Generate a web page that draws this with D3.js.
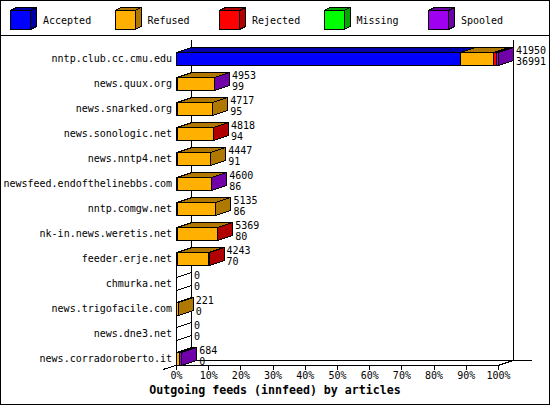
<!DOCTYPE html>
<html>
<head>
<meta charset="utf-8">
<script src="https://cdn.jsdelivr.net/npm/d3@7"></script>
<style>
  body { margin: 0; background: #fff; }
  svg text { font-family: "DejaVu Sans Mono", monospace; }
</style>
</head>
<body>
<svg width="550" height="405"></svg>
<script>
// feeds, top to bottom
var hosts = ["nntp.club.cc.cmu.edu", "news.quux.org", "news.snarked.org", "news.sonologic.net",
  "news.nntp4.net", "newsfeed.endofthelinebbs.com", "nntp.comgw.net", "nk-in.news.weretis.net",
  "feeder.erje.net", "chmurka.net", "news.trigofacile.com", "news.dne3.net", "news.corradoroberto.it"];

// article counts per feed
var offered  = [41950, 4953, 4717, 4818, 4447, 4600, 5135, 5369, 4243, 0, 221, 0, 684];
var accepted = [36991,   99,   95,   94,   91,   86,   86,   80,   70, 0,   0, 0,   0];
var refused  = [ 4280, 4800, 4622, 4680, 4356, 4480, 5049, 5250, 4135, 0, 221, 0, 380];
var rejected = [  450,    0,    0,   44,    0,    0,    0,   39,   38, 0,   0, 0,  60];
var missing  = [    0,    0,    0,    0,    0,    0,    0,    0,    0, 0,   0, 0,   0];
var spooled  = [  229,   54,    0,    0,    0,   34,    0,    0,    0, 0,   0, 0, 244];

var seriesNames = ["Accepted", "Refused", "Rejected", "Missing", "Spooled"];
var seriesData = [accepted, refused, rejected, missing, spooled];
var frontColors = ["#0000ff", "#ffb000", "#ff0000", "#00ff00", "#a000f0"];
var darkColors  = ["#0000a8", "#b07800", "#b00000", "#00a800", "#7000a8"];

var pctTicks = [0, 10, 20, 30, 40, 50, 60, 70, 80, 90, 100];

var svg = d3.select("svg");
svg.attr("shape-rendering", "crispEdges");

var dx = 15, dy = 5;          // 3d depth
var plotLeft = 176, plotRight = 498, plotTop = 52, plotBottom = 365;

var x = d3.scaleLinear().domain([0, d3.max(offered)]).range([plotLeft, plotRight]);
var xPct = d3.scaleLinear().domain([0, 100]).range([plotLeft, plotRight]);
var y = d3.scaleBand().domain(hosts).range([plotTop, plotBottom]).paddingInner(0.48).paddingOuter(0);

// frame
svg.append("rect").attr("x", 0.5).attr("y", 0.5).attr("width", 549).attr("height", 404)
  .attr("fill", "none").attr("stroke", "#000");
svg.append("line").attr("x1", 0).attr("x2", 550).attr("y1", 35.5).attr("y2", 35.5).attr("stroke", "#000");

// legend
var legX = d3.scaleBand().domain(seriesNames).range([10, 532.5]);
var leg = svg.selectAll("g.leg").data(seriesNames).enter().append("g")
  .attr("class", "leg")
  .attr("transform", function(d) { return "translate(" + legX(d) + ",10)"; });
leg.each(function(d, i) {
  var g = d3.select(this);
  g.append("polygon").attr("points", "0.5,0.5 6.5,-2.5 26.5,-2.5 20.5,0.5")
    .attr("fill", darkColors[i]).attr("stroke", "#000");
  g.append("polygon").attr("points", "20.5,0.5 26.5,-2.5 26.5,16.5 20.5,19.5")
    .attr("fill", darkColors[i]).attr("stroke", "#000");
  g.append("rect").attr("x", 0.5).attr("y", 0.5).attr("width", 20).attr("height", 19)
    .attr("fill", frontColors[i]).attr("stroke", "#000");
  g.append("text").attr("x", 33).attr("y", 14).attr("font-size", 10).text(d);
});

// back walls and floor
var walls = svg.append("g").attr("stroke", "#000");
walls.append("line").attr("x1", plotLeft + dx + 0.5).attr("x2", plotLeft + dx + 0.5)
  .attr("y1", 40).attr("y2", plotBottom - dy);
walls.append("line").attr("x1", plotRight + dx + 0.5).attr("x2", plotRight + dx + 0.5)
  .attr("y1", 40).attr("y2", plotBottom - dy);
walls.append("line").attr("x1", plotLeft + dx).attr("x2", plotRight + dx + 19)
  .attr("y1", plotBottom - dy + 0.5).attr("y2", plotBottom - dy + 0.5);
walls.append("line").attr("x1", plotLeft).attr("x2", plotRight)
  .attr("y1", plotBottom + 0.5).attr("y2", plotBottom + 0.5);
walls.append("line").attr("x1", plotRight).attr("x2", plotRight + dx)
  .attr("y1", plotBottom + 0.5).attr("y2", plotBottom - dy + 0.5);
walls.append("line").attr("x1", plotLeft - 13).attr("x2", plotLeft + dx)
  .attr("y1", plotBottom + 4.5).attr("y2", plotBottom - dy + 0.5);
// front edge below the last drawn bars
var firstZero = hosts[offered.indexOf(0)];
walls.append("line").attr("x1", plotLeft + 0.5).attr("x2", plotLeft + 0.5)
  .attr("y1", y(firstZero) - (y.step() - y.bandwidth())).attr("y2", plotBottom);

// x axis
var xAxis = d3.axisBottom(xPct).tickValues(pctTicks).tickSize(4).tickSizeOuter(0)
  .tickFormat(function(d) { return d + "%"; });
var ax = svg.append("g").attr("transform", "translate(0," + (plotBottom + 0.5) + ")").call(xAxis);
ax.select(".domain").remove();
ax.selectAll("text").attr("font-family", "DejaVu Sans Mono, monospace")
  .attr("font-size", 10).attr("dy", "0.6em").attr("fill", "#000");
ax.selectAll("line").attr("stroke", "#000");

// category labels
svg.selectAll("text.host").data(hosts).enter().append("text")
  .attr("class", "host")
  .attr("x", 172).attr("y", function(d) { return y(d) + y.bandwidth() / 2 + 3.5; })
  .attr("text-anchor", "end").attr("font-size", 10).text(function(d) { return d; });

// bars
var h = y.bandwidth();
hosts.forEach(function(host, r) {
  var g = svg.append("g").attr("stroke", "#000");
  var y0 = Math.round(y(host)) + 0.5, y1 = y0 + Math.round(h);
  var cum = 0;
  var drawn = false;
  seriesData.forEach(function(arr, s) {
    var v = arr[r];
    if (v <= 0) return;
    var x0 = Math.round(x(cum)) + 0.5;
    cum += v;
    var x1 = Math.round(x(cum)) + 0.5;
    g.append("polygon")
      .attr("points", [[x0, y0], [x0 + dx, y0 - dy], [x1 + dx, y0 - dy], [x1, y0]].join(" "))
      .attr("fill", darkColors[s]);
    g.append("polygon")
      .attr("points", [[x1, y0], [x1 + dx, y0 - dy], [x1 + dx, y1 - dy], [x1, y1]].join(" "))
      .attr("fill", darkColors[s]);
    g.append("rect").attr("x", x0).attr("y", y0).attr("width", x1 - x0).attr("height", y1 - y0)
      .attr("fill", frontColors[s]);
    drawn = true;
  });
  if (!drawn) {
    var xz = Math.round(x(0)) + 0.5;
    g.append("polygon")
      .attr("points", [[xz, y0], [xz + dx, y0 - dy], [xz + dx, y1 - dy], [xz, y1]].join(" "))
      .attr("fill", "#fff");
  }
  var xe = x(offered[r]) + dx + 3;
  var cy = y(host) + h / 2;
  svg.append("text").attr("x", xe).attr("y", cy - 5).attr("font-size", 10).text(offered[r]);
  svg.append("text").attr("x", xe).attr("y", cy + 6).attr("font-size", 10).text(accepted[r]);
});

// title
svg.append("text").attr("x", 275).attr("y", 394).attr("text-anchor", "middle")
  .attr("font-size", 11.6).attr("font-weight", "bold")
  .text("Outgoing feeds (innfeed) by articles");
</script>
</body>
</html>
